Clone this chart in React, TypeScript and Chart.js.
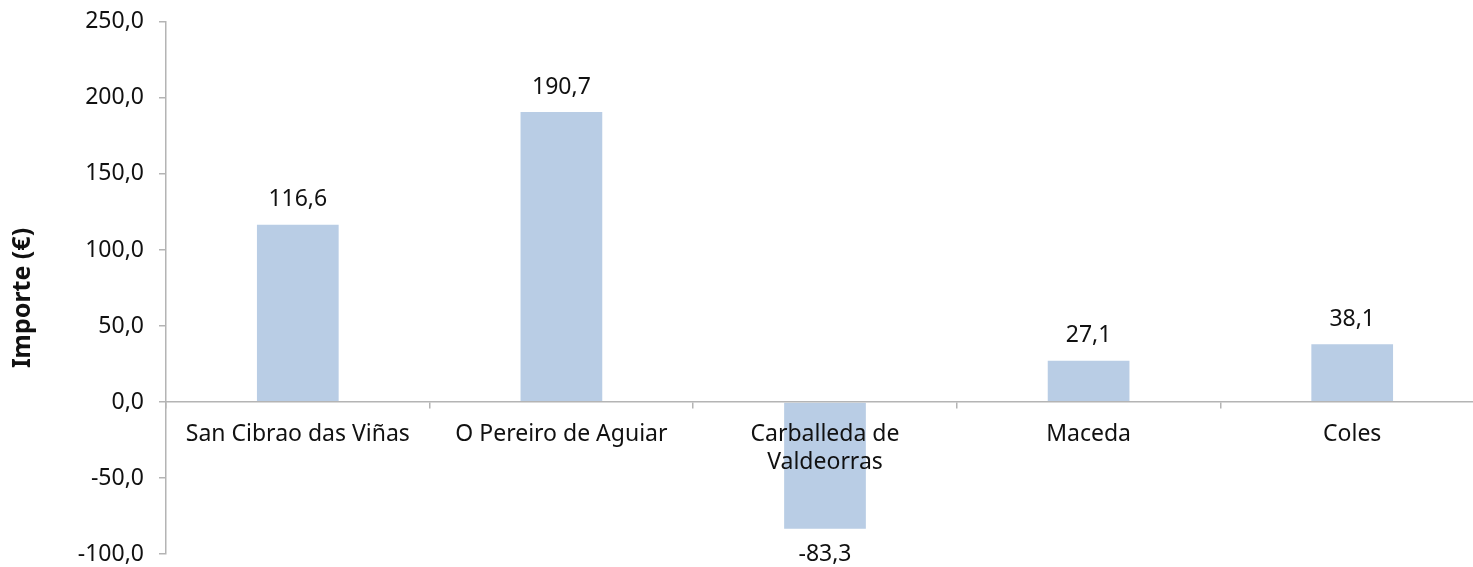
import React, { useEffect, useRef } from "react";
import { Chart, registerables } from "chart.js";

Chart.register(...registerables);

const categories: (string | string[])[] = [
  "San Cibrao das Viñas",
  "O Pereiro de Aguiar",
  ["Carballeda de", "Valdeorras"],
  "Maceda",
  "Coles",
];
const importeValues: number[] = [116.6, 190.7, -83.3, 27.1, 38.1];
const yMin = -100;
const yMax = 250;
const yStep = 50;
const yTitle = "Importe (€)";

const FONT = "'Noto Sans', sans-serif";
const fmt = (v: number) => v.toFixed(1).replace(".", ",");
const SHIFT = 7;

const dataLabels = {
  id: "dataLabels",
  afterDatasetsDraw(chart: any) {
    const ctx = chart.ctx;
    const meta = chart.getDatasetMeta(0);
    const data = chart.data.datasets[0].data as number[];
    ctx.save();
    ctx.font = `23px ${FONT}`;
    ctx.fillStyle = "#111";
    ctx.textAlign = "center";
    ctx.textBaseline = "middle";
    meta.data.forEach((el: any, i: number) => {
      const v = data[i];
      const y = v >= 0 ? el.y - 25 : el.y + 26;
      ctx.fillText(fmt(v), el.x, y);
    });
    ctx.restore();
  },
};

const yTitlePlugin = {
  id: "yTitlePlugin",
  afterDraw(chart: any) {
    const ctx = chart.ctx;
    ctx.save();
    ctx.translate(23, 298 + SHIFT);
    ctx.rotate(-Math.PI / 2);
    ctx.font = `bold 25px ${FONT}`;
    ctx.fillStyle = "#111";
    ctx.textAlign = "center";
    ctx.textBaseline = "middle";
    ctx.fillText(yTitle, 0, 0);
    ctx.restore();
  },
};

export default function App() {
  const ref = useRef<HTMLCanvasElement>(null);
  useEffect(() => {
    if (!ref.current) return;
    const chart = new Chart(ref.current, {
      type: "bar",
      data: {
        labels: categories,
        datasets: [
          {
            data: importeValues,
            backgroundColor: "#B9CDE5",
            borderWidth: 0,
            barPercentage: 0.31,
            categoryPercentage: 1,
          },
        ],
      },
      options: {
        responsive: false,
        animation: false,
        layout: { padding: { top: 10, bottom: 0, left: 0, right: 0 } },
        plugins: {
          legend: { display: false },
          tooltip: { enabled: false },
        },
        scales: {
          x: {
            position: { y: 0 } as any,
            offset: true,
            grid: {
              display: true,
              offset: true,
              drawOnChartArea: false,
              drawTicks: true,
              tickLength: 6,
              color: "#B4B4B4",
              lineWidth: 1.5,
              z: 1,
            },
            border: { display: true, color: "#B4B4B4", width: 1.5, z: 1 },
            ticks: {
              color: "#111",
              font: { family: FONT, size: 23, lineHeight: 1.2 },
              padding: 13,
              maxRotation: 0,
              autoSkip: false,
              z: 1,
            },
            afterFit: (scale: any) => {
              scale.height = 0;
            },
          },
          y: {
            min: yMin,
            max: yMax,
            ticks: {
              stepSize: yStep,
              color: "#111",
              font: { family: FONT, size: 23 },
              padding: 15,
              callback: (v: any) => fmt(Number(v)),
            },
            grid: {
              display: true,
              drawOnChartArea: false,
              drawTicks: true,
              tickLength: 7,
              color: "#B4B4B4",
              lineWidth: 1.5,
            },
            border: { display: true, color: "#B4B4B4", width: 1.5 },
            afterFit: (scale: any) => {
              scale.width = 166;
            },
          },
        },
      },
      plugins: [dataLabels, yTitlePlugin],
    });
    return () => chart.destroy();
  }, []);
  return (
    <div
      style={{
        position: "fixed",
        left: 0,
        top: 0,
        width: 1473,
        height: 567,
        overflow: "hidden",
        background: "#fff",
      }}
    >
      <canvas
        ref={ref}
        width={1484}
        height={590}
        style={{ display: "block", marginTop: -SHIFT }}
      />
    </div>
  );
}
